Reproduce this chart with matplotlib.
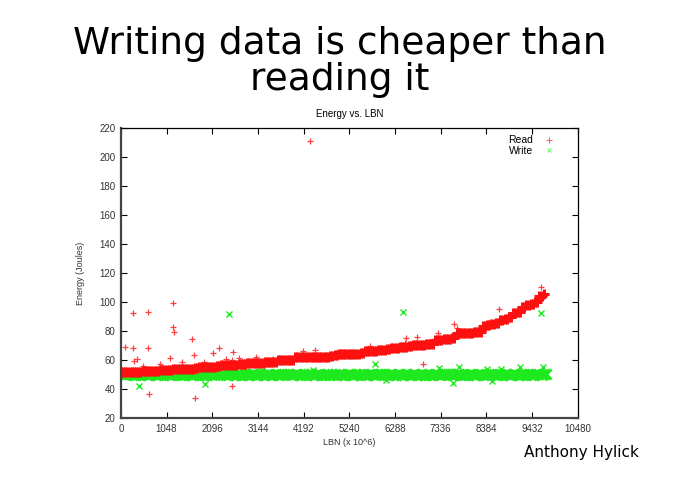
import numpy as np
import matplotlib
matplotlib.use("Agg")
import matplotlib.pyplot as plt
from matplotlib.lines import Line2D

# main bands, sampled every 100 LBN (x 10^6)
lbn = np.arange(0, 9800, 100)
read_energy = [51.5, 51.7, 51.8, 52.0, 52.0, 52.2, 52.3, 52.4, 52.6, 53.0,
               53.3, 53.5, 53.6, 53.8, 53.9, 54.0, 54.2, 54.8, 55.0, 55.1,
               55.2, 55.3, 56.2, 56.5, 56.6, 56.8, 56.9, 57.0, 57.2, 58.0,
               58.1, 58.2, 58.3, 58.4, 58.5, 58.6, 59.8, 60.0, 60.1, 60.3,
               61.8, 61.9, 62.0, 62.0, 62.1, 62.2, 62.3, 62.4, 62.5, 63.8,
               64.0, 64.1, 64.2, 64.4, 64.5, 64.7, 66.2, 66.4, 66.5, 66.7,
               66.9, 67.5, 68.3, 68.5, 68.7, 68.9, 69.6, 70.2, 70.4, 70.6,
               70.8, 71.0, 73.8, 74.1, 74.3, 74.6, 74.9, 78.5, 78.7, 78.9,
               79.0, 79.1, 79.3, 83.8, 84.2, 84.6, 85.8, 87.6, 88.4, 89.6,
               92.6, 93.4, 96.8, 97.8, 98.9, 100.4, 103.9, 105.3]
write_energy = [50.2, 49.8, 50.5, 49.6, 50.1, 50.6, 49.9, 50.3, 49.5, 50.4,
                50.0, 49.7, 50.6, 50.2, 49.8, 50.3, 49.6, 50.5, 50.0, 49.9,
                50.4, 49.7, 50.2, 50.6, 49.8, 50.1, 49.5, 50.3, 50.0, 49.8,
                50.5, 49.9, 50.2, 49.6, 50.4, 50.0, 49.7, 50.3, 50.6, 49.9,
                50.1, 49.5, 50.4, 50.2, 49.8, 50.5, 49.9, 50.0, 49.6, 50.3,
                50.1, 49.8, 50.5, 49.7, 50.2, 50.0, 49.9, 50.4, 49.6, 50.2,
                50.5, 49.8, 50.1, 49.7, 50.3, 50.0, 49.9, 50.5, 49.6, 50.2,
                50.0, 49.8, 50.4, 49.7, 50.1, 50.3, 49.9, 50.5, 49.6, 50.0,
                50.2, 49.8, 50.4, 50.0, 49.7, 50.3, 49.9, 50.5, 50.1, 49.8,
                50.2, 49.6, 50.4, 50.0, 49.9, 50.3, 50.1, 50.2]

# stray points
read_out_x = [92, 268, 268, 300, 367, 626, 626, 648, 1199, 1199, 1210, 1137,
              1640, 1675, 1697, 2115, 2250, 2573, 2560, 2550, 4334, 4180,
              4450, 5710, 6510, 6550, 6795, 6920, 7280, 7640, 7700, 8670,
              9645, 9690, 500, 900, 1400, 1900, 2400, 2700, 3100, 3500]
read_out_y = [69, 92.2, 68.3, 59.6, 60.5, 92.9, 68, 36.3, 99.1, 83, 79.5, 61.4,
              74.3, 63.4, 33.6, 65, 68, 65.7, 42, 60, 211, 66.2,
              66.7, 69.7, 72, 75, 76, 57, 78.8, 84.6, 82, 95,
              110.5, 105, 56, 57.5, 58.5, 59, 61, 61.5, 62, 61]
write_out_x = [2483, 413, 1940, 2844, 3226, 6460, 5825, 6090, 7300, 7620,
               7755, 8520, 8720, 9165, 9165, 9645, 9670, 8390, 4400, 1000]
write_out_y = [91.7, 42, 43.2, 54.3, 53, 92.9, 57, 46.2, 54.7, 43.9,
               55.4, 45.5, 54, 55.4, 48, 92.2, 55.4, 54, 53.5, 53]

x_ticks = [0, 1048, 2096, 3144, 4192, 5240, 6288, 7336, 8384, 9432, 10480]
y_ticks = [20, 40, 60, 80, 100, 120, 140, 160, 180, 200, 220]

red = "#ff1010"
green = "#1ee81e"

fig = plt.figure(figsize=(6.79, 4.8), dpi=100)
fig.text(0.5, 0.87, "Writing data is cheaper than\nreading it", ha="center",
         va="center", fontsize=27, family="DejaVu Sans", linespacing=1.0)
fig.text(0.772, 0.047, "Anthony Hylick", fontsize=11, family="DejaVu Sans")

ax = fig.add_axes([0.178, 0.129, 0.673, 0.604])
gp = "Liberation Sans"

ax.plot(lbn, write_energy, "x", color=green, ms=7, mew=2.0)
ax.plot(lbn + 50, write_energy[::-1], "x", color=green, ms=7, mew=2.0)
ax.plot(write_out_x, write_out_y, "x", color=green, ms=4.5, mew=1.0)
ax.plot(lbn, read_energy, "+", color=red, ms=7, mew=2.2)
ax.plot(lbn[:-1] + 50, read_energy[:-1], "+", color=red, ms=7, mew=2.2)
ax.plot(read_out_x, read_out_y, "+", color=red, ms=5, mew=0.9, alpha=0.8)

ax.set_xlim(0, 10480)
ax.set_ylim(20, 220)
ax.set_xticks(x_ticks)
ax.set_yticks(y_ticks)
ax.tick_params(direction="in", top=True, right=True, length=4, width=0.8,
               labelsize=7, labelcolor="#333333", pad=4)
for lab in ax.get_xticklabels() + ax.get_yticklabels():
    lab.set_family(gp)
for side in ["left", "bottom"]:
    ax.spines[side].set_linewidth(1.6)
    ax.spines[side].set_color("#444444")
for side in ["top", "right"]:
    ax.spines[side].set_linewidth(0.9)

ax.set_title("Energy vs. LBN", fontsize=7, family=gp, pad=8)
ax.set_xlabel("LBN (x 10^6)", fontsize=6.5, family=gp, color="#333333", labelpad=3)
ax.set_ylabel("Energy (Joules)", fontsize=6.5, family=gp, color="#333333", labelpad=10)

handles = [Line2D([], [], ls="none", marker="+", color=red, ms=4, mew=0.7, alpha=0.7),
           Line2D([], [], ls="none", marker="x", color=green, ms=3.5, mew=0.7, alpha=0.7)]
ax.legend(handles, ["Read", "Write"], loc="upper right", frameon=False,
          markerfirst=False, prop={"family": gp, "size": 7.5},
          handlelength=1.5, borderaxespad=0.3, labelspacing=0.05,
          bbox_to_anchor=(0.97, 1.0))

fig.savefig("out.png", dpi=100)
